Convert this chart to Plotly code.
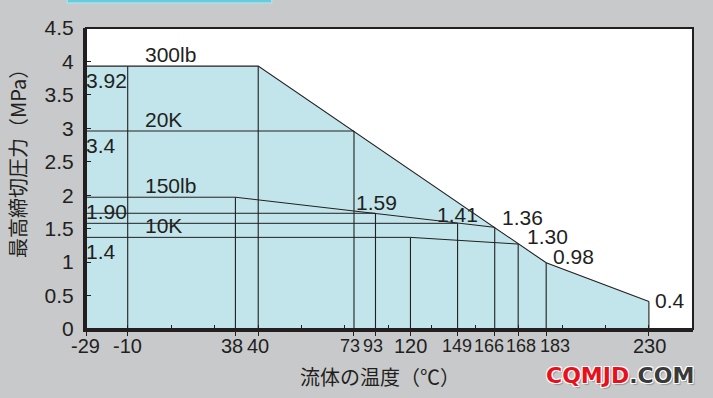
import plotly.graph_objects as go

# ---------------- data ----------------
# temperature tick labels and where the schematic chart draws them (deg C scale of the axis)
temp_labels = ["-29", "-10", "38", "40", "73", "93", "120", "149", "166", "168", "183", "230"]
temp_axis_pos = [-29, -10, 39.6, 50.1, 94.2, 104.1, 120.2, 141.9, 159.0, 169.8, 182.7, 230]

# envelope (300lb limit line), MPa as drawn
env_T = ["-29", "40", "183", "230"]
env_P = [3.93, 3.93, 0.99, 0.41]
# 20K
k20_T = ["-29", "73"]
k20_P = [2.96, 2.96]
# 150lb
lb150_T = ["-29", "38", "166"]
lb150_P = [1.97, 1.97, 1.52]
# 10K
k10_T = ["-29", "120", "168"]
k10_P = [1.37, 1.37, 1.27]
# level reference lines
ref_T = ["93", "149"]
ref_P = [1.73, 1.58]
# vertical drop lines
drop_T = ["-10", "38", "40", "73", "93", "120", "149", "166", "168", "183", "230"]
drop_P = [3.93, 1.97, 3.93, 2.96, 1.73, 1.37, 1.58, 1.52, 1.27, 0.99, 0.41]

curve_names = ["300lb", "20K", "150lb", "10K"]
curve_levels = [3.93, 2.96, 1.97, 1.37]
left_values = ["3.92", "3.4", "1.90", "1.4"]
point_labels = ["1.59", "1.41", "1.36", "1.30", "0.98", "0.4"]
point_label_T = ["93", "149", "166", "168", "183", "230"]

x_title = "流体の温度（℃）"
y_title = "最高締切圧力（MPa）"

# ---------------- build ----------------
POS = dict(zip(temp_labels, temp_axis_pos))
LINE = "#231f20"
FILL = "#c1e5eb"
NUMFONT = dict(family="Liberation Sans, Arial, sans-serif", size=21, color=LINE)
XFONT = dict(family="Liberation Sans, Arial, sans-serif", size=20, color=LINE)
XFONT_TIGHT = dict(family="Liberation Sans, Arial, sans-serif", size=18, color=LINE)
CJKFONT = dict(family="Noto Sans CJK JP, sans-serif", size=20, color=LINE)

fig = go.Figure()

# filled envelope
fig.add_trace(go.Scatter(
    x=[POS[t] for t in env_T], y=env_P, mode="lines",
    fill="tozeroy", fillcolor=FILL, line=dict(color=LINE, width=1.1),
    hoverinfo="skip"))

for T, Pv in [(k20_T, k20_P), (lb150_T, lb150_P), (k10_T, k10_P)]:
    fig.add_trace(go.Scatter(x=[POS[t] for t in T], y=Pv, mode="lines",
                             line=dict(color=LINE, width=1), hoverinfo="skip"))

for t, v in zip(ref_T, ref_P):
    fig.add_trace(go.Scatter(x=[POS["-29"], POS[t]], y=[v, v], mode="lines",
                             line=dict(color=LINE, width=1), hoverinfo="skip"))

dx, dy = [], []
for t, v in zip(drop_T, drop_P):
    dx += [POS[t], POS[t], None]
    dy += [0, v, None]
fig.add_trace(go.Scatter(x=dx, y=dy, mode="lines",
                         line=dict(color=LINE, width=1.1), hoverinfo="skip"))

ann = []
# x tick labels (crowded ones set tighter, as in the original)
crowded = {"73", "93", "149", "166", "168", "183"}
x_nudge = {"-29": -1, "38": -3, "73": -4, "93": -2, "149": -1, "166": -6,
           "168": 3, "183": 9, "230": 1}
for lab, p in zip(temp_labels, temp_axis_pos):
    ann.append(dict(x=p, y=0, xref="x", yref="y", text=lab, showarrow=False,
                    xanchor="center", yanchor="middle", yshift=-17,
                    xshift=x_nudge.get(lab, 0),
                    font=XFONT_TIGHT if lab in crowded else XFONT))
# left value labels
for lab, v in zip(left_values, curve_levels):
    ann.append(dict(x=POS["-29"], y=v, text=lab, showarrow=False, xanchor="left",
                    yanchor="middle", yshift=-14, xshift=-2, font=NUMFONT))
# curve names
for lab, v in zip(curve_names, curve_levels):
    ann.append(dict(x=POS["-10"], y=v, text=lab, showarrow=False, xanchor="left",
                    yanchor="middle", yshift=12, xshift=15, font=NUMFONT))
# point labels
pl_style = {"1.59": ("center", 1, 11), "1.41": ("center", 0, 8.5),
            "1.36": ("left", 5, 10), "1.30": ("left", 7, 7.5),
            "0.98": ("left", 5, 6.5), "0.4": ("left", 4, 1.5)}
val_at = dict(zip(drop_T, drop_P))
for lab, t in zip(point_labels, point_label_T):
    xa, xs, ys = pl_style[lab]
    ann.append(dict(x=POS[t], y=val_at[t], text=lab, showarrow=False, xanchor=xa,
                    yanchor="middle", xshift=xs, yshift=ys, font=NUMFONT))
# axis titles
ann.append(dict(x=0.485, y=-0.159, xref="paper", yref="paper", text=x_title,
                showarrow=False, xanchor="center", yanchor="middle", font=CJKFONT))
ann.append(dict(x=-0.112, y=0.565, xref="paper", yref="paper", text=y_title,
                showarrow=False, xanchor="center", yanchor="middle", textangle=-90,
                font=dict(family="Noto Sans CJK JP, sans-serif", size=20, color=LINE)))
# watermark
ann.append(dict(x=0.88, y=-0.155, xref="paper", yref="paper",
                text="<span style='color:#e8101c'>CQMJD</span><span style='color:#3a3a3a'>.COM</span>",
                showarrow=False, xanchor="center", yanchor="middle",
                font=dict(family="DejaVu Sans, sans-serif", size=22, weight="bold",
                          shadow="1px 1px 0 #fff, -1px -1px 0 #fff, 1px -1px 0 #fff, -1px 1px 0 #fff, 2px 2px 1px #999")))

fig.update_layout(
    width=713, height=398,
    margin=dict(l=86, r=20, t=28, b=69),
    paper_bgcolor="#c8c9cb", plot_bgcolor="white",
    showlegend=False,
    annotations=ann,
    xaxis=dict(range=[-29.2, 250.3], showgrid=False, zeroline=False,
               showline=True, linewidth=3, linecolor=LINE,
               tickmode="array", tickvals=temp_axis_pos, ticks="outside",
               ticklen=4, tickwidth=1, tickcolor=LINE, showticklabels=False,
               minor=dict(tickmode="linear", tick0=-10, dtick=20, ticks="inside",
                          ticklen=4, tickwidth=1, tickcolor=LINE, showgrid=False)),
    yaxis=dict(range=[0, 4.5], showgrid=False, zeroline=False,
               showline=True, linewidth=3, linecolor=LINE,
               tickmode="linear", tick0=0, dtick=0.5, ticks="inside",
               ticklen=5, tickwidth=1, tickcolor=LINE,
               tickfont=NUMFONT, ticklabelstandoff=5),
    shapes=[
        dict(type="rect", xref="paper", yref="paper", x0=0, x1=1, y0=0, y1=1,
             line=dict(color=LINE, width=2), fillcolor="rgba(0,0,0,0)", layer="above"),
        dict(type="rect", xref="paper", yref="paper", x0=-0.031, x1=0.306,
             y0=1.083, y1=1.14, line=dict(color="#a6e2ec", width=1.5),
             fillcolor="#6ccadd", layer="above"),
    ],
)

fig.write_html(
    "out.html",
    config={"displayModeBar": False},
    post_script="document.body.style.margin='0';document.body.style.background='#c8c9cb';",
)
